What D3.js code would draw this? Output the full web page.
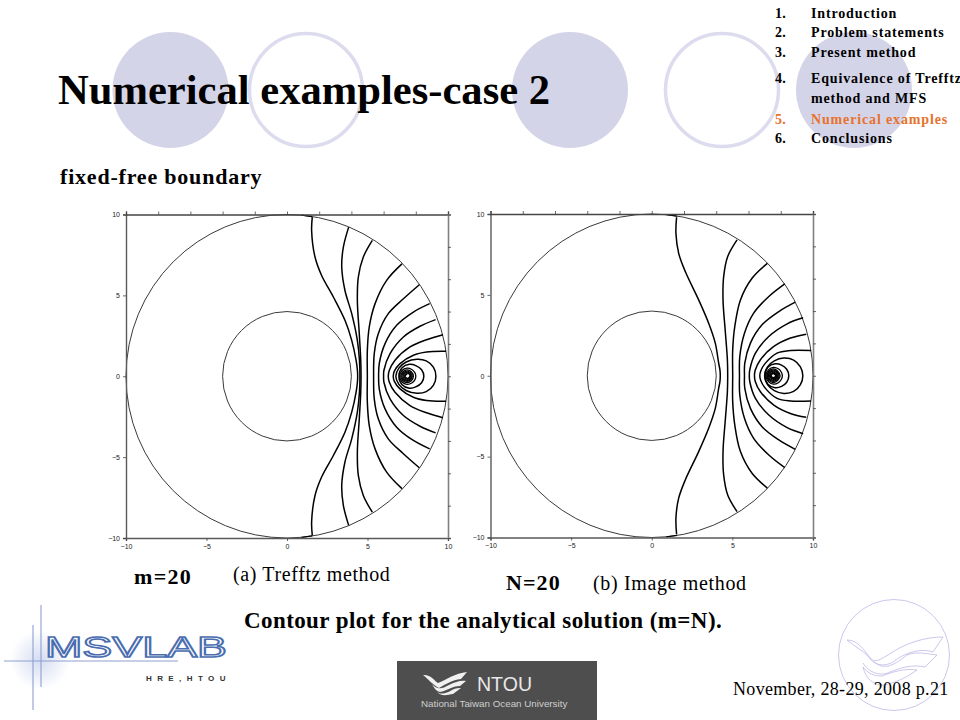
<!DOCTYPE html>
<html><head><meta charset="utf-8">
<script src="https://cdn.jsdelivr.net/npm/d3@7/dist/d3.min.js"></script>
<style>html,body{margin:0;padding:0;background:#fff;overflow:hidden}svg{display:block}</style>
</head><body><svg id="c" width="960" height="720"></svg>
<script>
// ---- data: upper-half contour lines (boundary -> y=0); the field is symmetric about y=0
const contoursA = [
 [[1.57,9.84],[1.53,9.0],[1.74,7.37],[2.15,6.23],[2.88,4.9],[3.6,3.46],[4.02,2.22],[4.29,0.99],[4.37,0.4],[4.39,0]],
 [[3.83,9.22],[3.5,7.98],[3.4,6.75],[3.6,5.3],[4.02,3.87],[4.37,2.22],[4.5,1.0],[4.53,0]],
 [[5.3,8.4],[4.74,7.37],[4.43,6.13],[4.37,4.69],[4.49,2.63],[4.58,1.0],[4.6,0]],
 [[7.14,6.95],[6.19,5.93],[5.47,4.49],[5.11,3.05],[4.99,1.6],[4.99,0]],
 [[8.22,5.66],[7.23,4.79],[6.29,3.87],[5.67,2.63],[5.42,1.4],[5.38,0]],
 [[8.86,4.49],[7.85,3.97],[6.81,3.15],[6.09,2.02],[5.73,0.78],[5.69,0]],
 [[9.23,3.5],[8.26,3.09],[7.23,2.43],[6.4,1.4],[6.02,0.37],[6.0,0]],
 [[9.69,2.57],[8.67,2.26],[7.64,1.81],[6.71,0.99],[6.35,0.35],[6.29,0]],
 [[9.88,1.54],[8.67,1.5],[7.85,1.3],[7.02,0.78],[6.66,0.3],[6.6,0]]
];
const contoursB = [
 [[1.54,9.8],[1.5,8.8],[1.67,7.57],[2.08,6.44],[2.91,4.69],[3.53,3.25],[3.94,2.02],[4.15,0.78],[4.23,0.35],[4.25,0]],
 [[5.29,8.4],[4.71,7.37],[4.46,6.13],[4.42,4.69],[4.57,2.63],[4.69,1.0],[4.71,0]],
 [[7.17,6.95],[6.22,6.03],[5.5,4.69],[5.15,3.05],[5.02,1.6],[5.02,0]],
 [[8.25,5.68],[7.26,4.9],[6.32,3.87],[5.75,2.63],[5.46,1.19],[5.44,0]],
 [[8.9,4.55],[7.88,3.97],[6.84,3.15],[6.12,2.02],[5.77,0.78],[5.75,0]],
 [[9.39,3.58],[8.4,3.21],[7.26,2.43],[6.43,1.4],[6.08,0.37],[6.05,0]],
 [[9.58,2.57],[8.6,2.33],[7.57,1.81],[6.74,0.99],[6.42,0.35],[6.37,0]],
 [[9.88,1.56],[8.6,1.56],[7.77,1.4],[7.05,0.78],[6.76,0.3],[6.7,0]]
];
const rimPiece = [[0.9,9.96],[1.57,9.87]];
// closed loops round the source: [x, y] upper half, left to right
const loopsA = [
 [[6.76,0],[6.95,0.5],[7.4,0.88],[8.07,1.05],[8.65,0.95],[9.1,0.55],[9.25,0]],
 [[6.95,0],[7.15,0.52],[7.6,0.74],[8.0,0.66],[8.36,0.4],[8.5,0]],
 [[7.0,0],[7.15,0.36],[7.45,0.5],[7.75,0.42],[7.94,0.22],[8.0,0]],
 [[7.07,0],[7.2,0.28],[7.47,0.4],[7.72,0.28],[7.85,0]],
 [[7.13,0],[7.24,0.22],[7.47,0.32],[7.67,0.22],[7.78,0]],
 [[7.2,0],[7.3,0.18],[7.47,0.25],[7.62,0.18],[7.72,0]],
 [[7.27,0],[7.48,0.19],[7.68,0]],
 [[7.33,0],[7.48,0.13],[7.63,0]]
];
const loopsB = [
 [[7.0,0],[7.18,0.55],[7.6,0.92],[8.19,1.09],[8.8,0.97],[9.22,0.55],[9.37,0]],
 [[7.02,0],[7.2,0.52],[7.65,0.74],[8.05,0.66],[8.37,0.4],[8.5,0]],
 [[7.08,0],[7.25,0.38],[7.55,0.52],[7.85,0.43],[8.04,0.22],[8.1,0]],
 [[7.14,0],[7.27,0.3],[7.55,0.42],[7.8,0.3],[7.96,0]],
 [[7.18,0],[7.3,0.25],[7.55,0.35],[7.77,0.25],[7.9,0]],
 [[7.24,0],[7.34,0.2],[7.55,0.28],[7.73,0.2],[7.84,0]],
 [[7.29,0],[7.55,0.22],[7.79,0]],
 [[7.34,0],[7.55,0.17],[7.75,0]],
 [[7.4,0],[7.55,0.11],[7.7,0]]
];
const outerRadius = [10];
const innerRadius = [4];
const labelTicks = [-10,-5,0,5,10];
const minorTicks = [-10,-8,-6,-4,-2,0,2,4,6,8,10];
const navItems = [["1.","Introduction"],["2.","Problem statements"],["3.","Present method"],["4.","Equivalence of Trefftz"],["","method and MFS"],["5.","Numerical examples"],["6.","Conclusions"]];
const titleText = "Numerical examples-case 2";
const subtitleText = "fixed-free boundary";
const captionA = ["m=20","(a) Trefftz method"];
const captionB = ["N=20","(b) Image method"];
const captionMain = "Contour plot for the analytical solution (m=N).";
const dateText = "November, 28-29, 2008 p.21";

// ---- layout and drawing
const svg = d3.select("#c");
const serif = "'Liberation Serif','Times New Roman',serif";
const sans = "'Liberation Sans',Arial,sans-serif";
const defs = svg.append("defs");
const glow = defs.append("radialGradient").attr("id","glow");
glow.append("stop").attr("offset","0%").attr("stop-color","#9fb2e0").attr("stop-opacity",.45);
glow.append("stop").attr("offset","100%").attr("stop-color","#9fb2e0").attr("stop-opacity",0);

// decorative circles
const deco = svg.append("g");
[[170.5,1],[306,0],[570,1],[722,0],[854,1]].forEach(([cx,filled])=>{
  deco.append("circle").attr("cx",cx).attr("cy",90).attr("r",filled?58:56.5)
    .attr("fill",filled?"#d4d4e9":"none").attr("stroke",filled?"none":"#dcdcee").attr("stroke-width",3.5);
});

function text(s,x,y,size,opts={}){
  return svg.append("text").text(s).attr("x",x).attr("y",y)
    .attr("font-family",opts.family||serif).attr("font-size",size)
    .attr("font-weight",opts.bold?"bold":"normal").attr("fill",opts.fill||"#000")
    .attr("letter-spacing",opts.ls||0);
}
text(titleText,58,104,42.6,{bold:true});
text(subtitleText,60,184,22,{bold:true,ls:.8});

const navY=[18,37,57,83,103,124,143];
navItems.forEach((d,i)=>{
  const fill = d[1]==="Numerical examples" ? "#e8722c" : "#000";
  text(d[0],775,navY[i],14,{bold:true,fill,ls:.2});
  text(d[1],811,navY[i],14,{bold:true,fill,ls:.85});
});

function plot(x0,x1,y0,y1,contours,loops){
  const x=d3.scaleLinear().domain([-10,10]).range([x0,x1]);
  const y=d3.scaleLinear().domain([-10,10]).range([y1,y0]);
  const g=svg.append("g");
  const rx=r=>x(r)-x(0), ry=r=>y(0)-y(r);
  const circ=g=>g.attr("cx",x(0)).attr("cy",y(0)).attr("fill","none").attr("stroke","#3a3a3a").attr("stroke-width",1);
  g.selectAll(".o").data(outerRadius).enter().append("ellipse").call(circ).attr("rx",rx).attr("ry",ry);
  g.selectAll(".i").data(innerRadius).enter().append("ellipse").call(circ).attr("rx",rx).attr("ry",ry);
  const line=d3.line().x(d=>x(d[0])).y(d=>y(d[1])).curve(d3.curveCatmullRom.alpha(.5));
  const mirror=h=>h.concat(h.slice(0,-1).reverse().map(d=>[d[0],-d[1]]));
  g.selectAll(".c").data(contours).enter().append("path").attr("d",d=>line(mirror(d)))
    .attr("fill","none").attr("stroke","#000").attr("stroke-width",1.5);
  g.selectAll(".r").data([rimPiece,rimPiece.map(d=>[d[0],-d[1]])]).enter().append("path").attr("d",line)
    .attr("fill","none").attr("stroke","#000").attr("stroke-width",1.4);
  const closed=d3.line().x(d=>x(d[0])).y(d=>y(d[1])).curve(d3.curveCatmullRomClosed.alpha(.5));
  const ring=h=>h.concat(h.slice(1,-1).reverse().map(d=>[d[0],-d[1]]));
  g.selectAll(".l").data(loops).enter().append("path").attr("d",d=>closed(ring(d)))
    .attr("fill","none").attr("stroke","#000").attr("stroke-width",(d,i)=>i<2?1.5:1.3);
  // frame
  const axes=[
    [d3.axisBottom(x).tickValues(labelTicks),`translate(0,${y1})`,true],
    [d3.axisLeft(y).tickValues(labelTicks),`translate(${x0},0)`,true],
    [d3.axisTop(x).tickValues(minorTicks).tickFormat(""),`translate(0,${y0})`,false],
    [d3.axisRight(y).tickValues(minorTicks).tickFormat(""),`translate(${x1},0)`,false]
  ];
  axes.forEach(([a,t,lab],i)=>{
    const ax=g.append("g").attr("transform",t).call(a.tickSizeOuter(0).tickSize(3).tickPadding(3));
    ax.select(".domain").attr("stroke",i===3?"#808080":i===0||i===1?"#5a5a5a":"#444").attr("stroke-width",i===3?1.6:1.4);
    ax.selectAll("line").attr("stroke","#444").attr("stroke-width",.8);
    ax.selectAll("text").attr("font-family",sans).attr("font-size",7).attr("fill","#222");
  });
}
plot(126,448,214.5,538,contoursA,loopsA);
plot(490.5,813,214,537.5,contoursB,loopsB);
svg.append("circle").attr("cx",773).attr("cy",375.5).attr("r",1).attr("fill","#fff");
svg.append("circle").attr("cx",408).attr("cy",375.5).attr("r",1.2).attr("fill","#fff");

text(captionA[0],134,584,22,{bold:true,ls:1.3});
text(captionA[1],233,581,20,{ls:.62});
text(captionB[0],506,590,22,{bold:true,ls:1.1});
text(captionB[1],593,590,20,{ls:.65});
text(captionMain,244,628,23,{bold:true,ls:.41});

// right seal
const seal=svg.append("g").attr("fill","none").attr("stroke","#bdb9e6").attr("stroke-width",.8);
seal.append("circle").attr("cx",894).attr("cy",655).attr("r",55.5);
["M847,640 C858,640 864,650 870,658 C876,664 882,658 888,655 C905,643 925,637 943,637 L933,652 C922,648 905,652 893,662 C882,668 873,664 868,656 C862,650 854,646 847,640Z",
 "M873,661 C885,672 895,664 907,655 C917,651 928,654 937,655 L925,667 C912,664 900,668 890,672 C880,677 868,672 863,663",
 "M863,667 C866,680 875,686 885,685 C895,682 903,680 917,670 C905,668 892,672 882,676 C875,676 868,674 863,667Z"]
 .forEach(d=>seal.append("path").attr("d",d));
text(dateText,733,695,18,{ls:.32});

// MSVLAB logo
svg.append("ellipse").attr("cx",40).attr("cy",660).attr("rx",30).attr("ry",30).attr("fill","url(#glow)");
[[41,605,41,687],[33,625,33,710],[4,661,178,661]].forEach(l=>{
  svg.append("line").attr("x1",l[0]).attr("y1",l[1]).attr("x2",l[2]).attr("y2",l[3]).attr("stroke","#8f9fcf").attr("stroke-width",1.1);
});
text("MSVLAB",45,657,30,{family:sans}).attr("textLength",182).attr("lengthAdjust","spacingAndGlyphs")
  .attr("fill","#fff").attr("stroke","#4a6db0").attr("stroke-width",1.5);
text("HRE,HTOU",146,681,8,{family:sans,bold:true,ls:5.4,fill:"#333"});

// NTOU block
svg.append("rect").attr("x",397).attr("y",661).attr("width",200).attr("height",59).attr("fill","#4e4e4e");
const wave=svg.append("g").attr("fill","#f0f0f0");
["M423,675 C430,674 434,680 438,683 C446,680 455,673 467,672 L461,679 C452,680 446,684 439,688 C433,685 428,679 423,675Z",
 "M432,684 C437,690 442,689 449,685 C455,682 461,680 466,681 L460,686 C452,686 446,691 440,692 C436,691 434,688 432,684Z",
 "M436,691 C440,695 446,694 452,690 C456,688 459,688 461,688 L453,694 C447,695 441,697 436,691Z"]
 .forEach(d=>wave.append("path").attr("d",d));
text("NTOU",477,691,21,{family:sans,fill:"#e8e8e8"}).attr("textLength",55).attr("lengthAdjust","spacingAndGlyphs");
text("National Taiwan Ocean University",421,707,9.8,{family:sans,fill:"#cfcfcf"});
</script></body></html>
